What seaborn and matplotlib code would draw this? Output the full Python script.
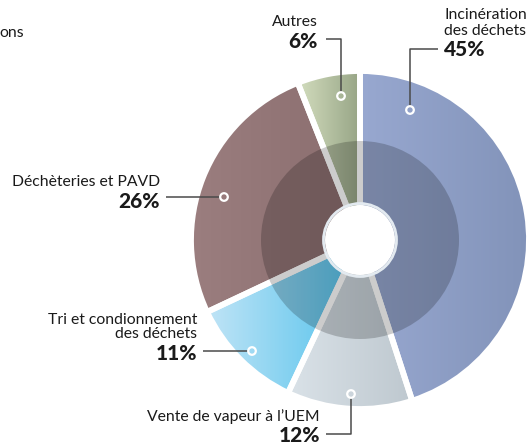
import numpy as np
import matplotlib
matplotlib.use("Agg")
import matplotlib.pyplot as plt
import matplotlib.colors as mcolors
from matplotlib.patches import Circle
import seaborn as sns

sns.set_style("white")
plt.rcParams['font.family'] = ['Lato', 'DejaVu Sans']

# ---- data ----
categories = ["Incinération\ndes déchets", "Vente de vapeur à l’UEM",
              "Tri et condionnement\ndes déchets", "Déchèteries et PAVD", "Autres"]
values = [45, 12, 11, 26, 6]
pct_labels = ["45%", "12%", "11%", "26%", "6%"]
grad_left = ["#98a8d0", "#dae2e8", "#c0e4f6", "#9b7e7f", "#d3ddbe"]
grad_right = ["#8293b9", "#bec8cf", "#52c2ec", "#8a6d6e", "#96a485"]

W, H = 531, 446
fig = plt.figure(figsize=(W / 100, H / 100), dpi=100)
ax = fig.add_axes([0, 0, 1, 1])

def Y(y):
    return H - y

cx, cy, R = 360, Y(240), 169

wedges, _ = ax.pie(values, startangle=90, counterclock=False, radius=R,
                   center=(cx, cy), colors=grad_right,
                   wedgeprops=dict(linewidth=0))

# gradient fills clipped to wedges
for w, cl, cr in zip(wedges, grad_left, grad_right):
    ext = w.get_path().get_extents()
    c0 = np.array(mcolors.to_rgb(cl))
    c1 = np.array(mcolors.to_rgb(cr))
    t = np.linspace(0, 1, 256)[None, :, None]
    img = c0 + (c1 - c0) * t
    im = ax.imshow(img, extent=(ext.x0, ext.x1, ext.y0, ext.y1),
                   origin="lower", aspect="auto", zorder=2, interpolation="bilinear")
    im.set_clip_path(w)
    w.set_visible(False)
    ax.add_patch(matplotlib.patches.Wedge((cx, cy), R, w.theta1, w.theta2,
                                          facecolor="none", edgecolor="white",
                                          linewidth=4.2, zorder=3))

# inner darker disc
ax.add_patch(Circle((cx, cy), 99, facecolor="black", alpha=0.2,
                    edgecolor="none", zorder=4))
# center hole
ax.add_patch(Circle((cx, cy), 36.5, facecolor="none", edgecolor="#e3eaf0",
                    linewidth=2, zorder=5))
ax.add_patch(Circle((cx, cy), 35, facecolor="white", edgecolor="none", zorder=6))

# ---- labels & leaders (image pixel coordinates) ----
line_c = "#4a4a4a"
txt_c = "#1a1a1a"
fs, fsb = 11.3, 15

def marker(x, y):
    ax.add_patch(Circle((x, Y(y)), 3.8, facecolor="none", edgecolor="white",
                        linewidth=1.6, zorder=8))

def leader(pts):
    xs = [p[0] for p in pts]
    ys = [Y(p[1]) for p in pts]
    ax.plot(xs, ys, color=line_c, lw=1.1, zorder=7, solid_capstyle="butt")

# Incinération
ax.text(444, Y(23), categories[0], ha="left", va="center", fontsize=fs,
        color=txt_c, linespacing=1.1)
ax.text(444, Y(50), pct_labels[0], ha="left", va="center", fontsize=fsb,
        fontweight="black", color=txt_c)
leader([(438, 49), (410, 49), (410, 106)])
marker(410, 110)

# Autres
ax.text(318, Y(22), categories[4], ha="right", va="center", fontsize=fs, color=txt_c)
ax.text(318, Y(42), pct_labels[4], ha="right", va="center", fontsize=fsb,
        fontweight="black", color=txt_c)
leader([(326, 39), (341, 39), (341, 92)])
marker(341, 96)

# Déchèteries
ax.text(160, Y(182), categories[3], ha="right", va="center", fontsize=fs, color=txt_c)
ax.text(160, Y(201), pct_labels[3], ha="right", va="center", fontsize=fsb,
        fontweight="black", color=txt_c)
leader([(166, 197), (220, 197)])
marker(224, 197)

# Tri
ax.text(197, Y(327), categories[2], ha="right", va="center", fontsize=fs,
        color=txt_c, linespacing=1.05, multialignment="right")
ax.text(197, Y(353), pct_labels[2], ha="right", va="center", fontsize=fsb,
        fontweight="black", color=txt_c)
leader([(203, 351), (248, 351)])
marker(252, 351)

# Vente
ax.text(320, Y(417), categories[1], ha="right", va="center", fontsize=fs, color=txt_c)
ax.text(320, Y(436), pct_labels[1], ha="right", va="center", fontsize=fsb,
        fontweight="black", color=txt_c)
leader([(326, 434), (351, 434), (351, 398)])
marker(351, 394)

# truncated title fragment
ax.text(-1, Y(33), "ons", ha="left", va="center", fontsize=fs, color=txt_c)

ax.set_xlim(0, W)
ax.set_ylim(0, H)
ax.set_aspect("equal")
ax.axis("off")
fig.savefig("out.png", dpi=100)
